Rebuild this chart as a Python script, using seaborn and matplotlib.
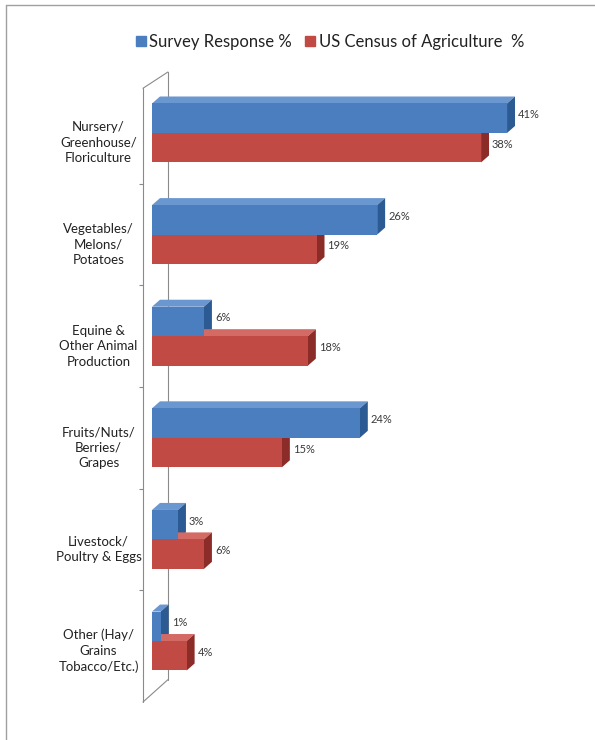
import matplotlib
matplotlib.use("Agg")
import matplotlib.pyplot as plt
import seaborn as sns
import pandas as pd
from matplotlib.patches import Polygon
from matplotlib.lines import Line2D

# data
categories = [
    "Nursery/\nGreenhouse/\nFloriculture",
    "Vegetables/\nMelons/\nPotatoes",
    "Equine &\nOther Animal\nProduction",
    "Fruits/Nuts/\nBerries/\nGrapes",
    "Livestock/\nPoultry & Eggs",
    "Other (Hay/\nGrains\nTobacco/Etc.)",
]
survey = [41, 26, 6, 24, 3, 1]
census = [38, 19, 18, 15, 6, 4]
series = ["Survey Response %", "US Census of Agriculture  %"]

front_colors = ["#4a7ebf", "#c24a44"]
top_colors = ["#6b97d0", "#d46a64"]
side_colors = ["#2c5a93", "#8c2c29"]

df = pd.DataFrame({
    "category": categories * 2,
    "series": [series[0]] * len(categories) + [series[1]] * len(categories),
    "value": survey + census,
})

sns.set_style("white")
plt.rcParams["font.family"] = ["Lato", "DejaVu Sans"]

fig = plt.figure(figsize=(5.95, 7.40), dpi=100)
ax = fig.add_axes([143 / 595, 1 - 702 / 740, 427 / 595, 630 / 740])

sns.barplot(data=df, y="category", x="value", hue="series", orient="h",
            palette=front_colors, saturation=1, width=0.58, legend=False,
            linewidth=0, edgecolor="none", ax=ax, zorder=3)

ax.set_xlim(-1.04, 48.27)
ax.set_ylim(5.60, -0.60)

# fake 3d depth on each bar
dx, dy = 0.92, 0.069
n = len(categories)
for i, p in enumerate(ax.patches):
    s = i // n
    x0, w = p.get_x(), p.get_width()
    y0, h = p.get_y(), p.get_height()
    x1, y1 = x0 + w, y0 + h
    top = Polygon([(x0, y0), (x1, y0), (x1 + dx, y0 - dy), (x0 + dx, y0 - dy)],
                  closed=True, facecolor=top_colors[s], edgecolor="none", zorder=2)
    side = Polygon([(x1, y0), (x1, y1), (x1 + dx, y1 - dy), (x1 + dx, y0 - dy)],
                   closed=True, facecolor=side_colors[s], edgecolor="none", zorder=2)
    ax.add_patch(top)
    ax.add_patch(side)
    ax.text(x1 + dx + 0.35, y0 + h / 2 - dy / 2, f"{w:.0f}%", fontsize=8,
            color="#3a3a3a", va="center", ha="left", zorder=4)

# chart walls
wall = dict(color="#8a8a8a", lw=0.8, zorder=1, clip_on=False)
ax.plot([-1.04, -1.04], [-0.44, 5.60], **wall)
ax.plot([1.84, 1.84], [-0.60, 5.38], **wall)
ax.plot([-1.04, 1.84], [-0.44, -0.60], **wall)
ax.plot([-1.04, 1.84], [5.60, 5.38], **wall)

for sp in ax.spines.values():
    sp.set_visible(False)
ax.set_xticks([])
ax.set_yticks([i + 0.07 for i in range(n)], categories)
ax.set_yticks([i + 0.5 for i in range(n - 1)], minor=True)
ax.tick_params(axis="y", which="major", length=0, pad=32, labelsize=9.5,
               labelcolor="#222222")
ax.tick_params(axis="y", which="minor", length=3, width=0.8, color="#8a8a8a",
               direction="out", left=True)
for lbl in ax.get_yticklabels():
    lbl.set_ha("center")
    lbl.set_multialignment("center")
    lbl.set_linespacing(1.35)
ax.set_xlabel("")
ax.set_ylabel("")

handles = [Line2D([], [], marker="s", ls="", color=c, markersize=7) for c in front_colors]
fig.legend(handles, series, loc="center", bbox_to_anchor=(330 / 595, 1 - 42 / 740),
           ncol=2, frameon=False, fontsize=12, handlelength=0.6,
           handletextpad=0.2, columnspacing=0.8, labelcolor="#222222")

# outer frame
fig.add_artist(Line2D([6 / 595, 1], [1 - 5 / 740] * 2, transform=fig.transFigure,
                      color="#a0a0a0", lw=1))
fig.add_artist(Line2D([6 / 595] * 2, [0, 1 - 5 / 740], transform=fig.transFigure,
                      color="#a0a0a0", lw=1))

fig.savefig("out.png", dpi=100, facecolor="white")
